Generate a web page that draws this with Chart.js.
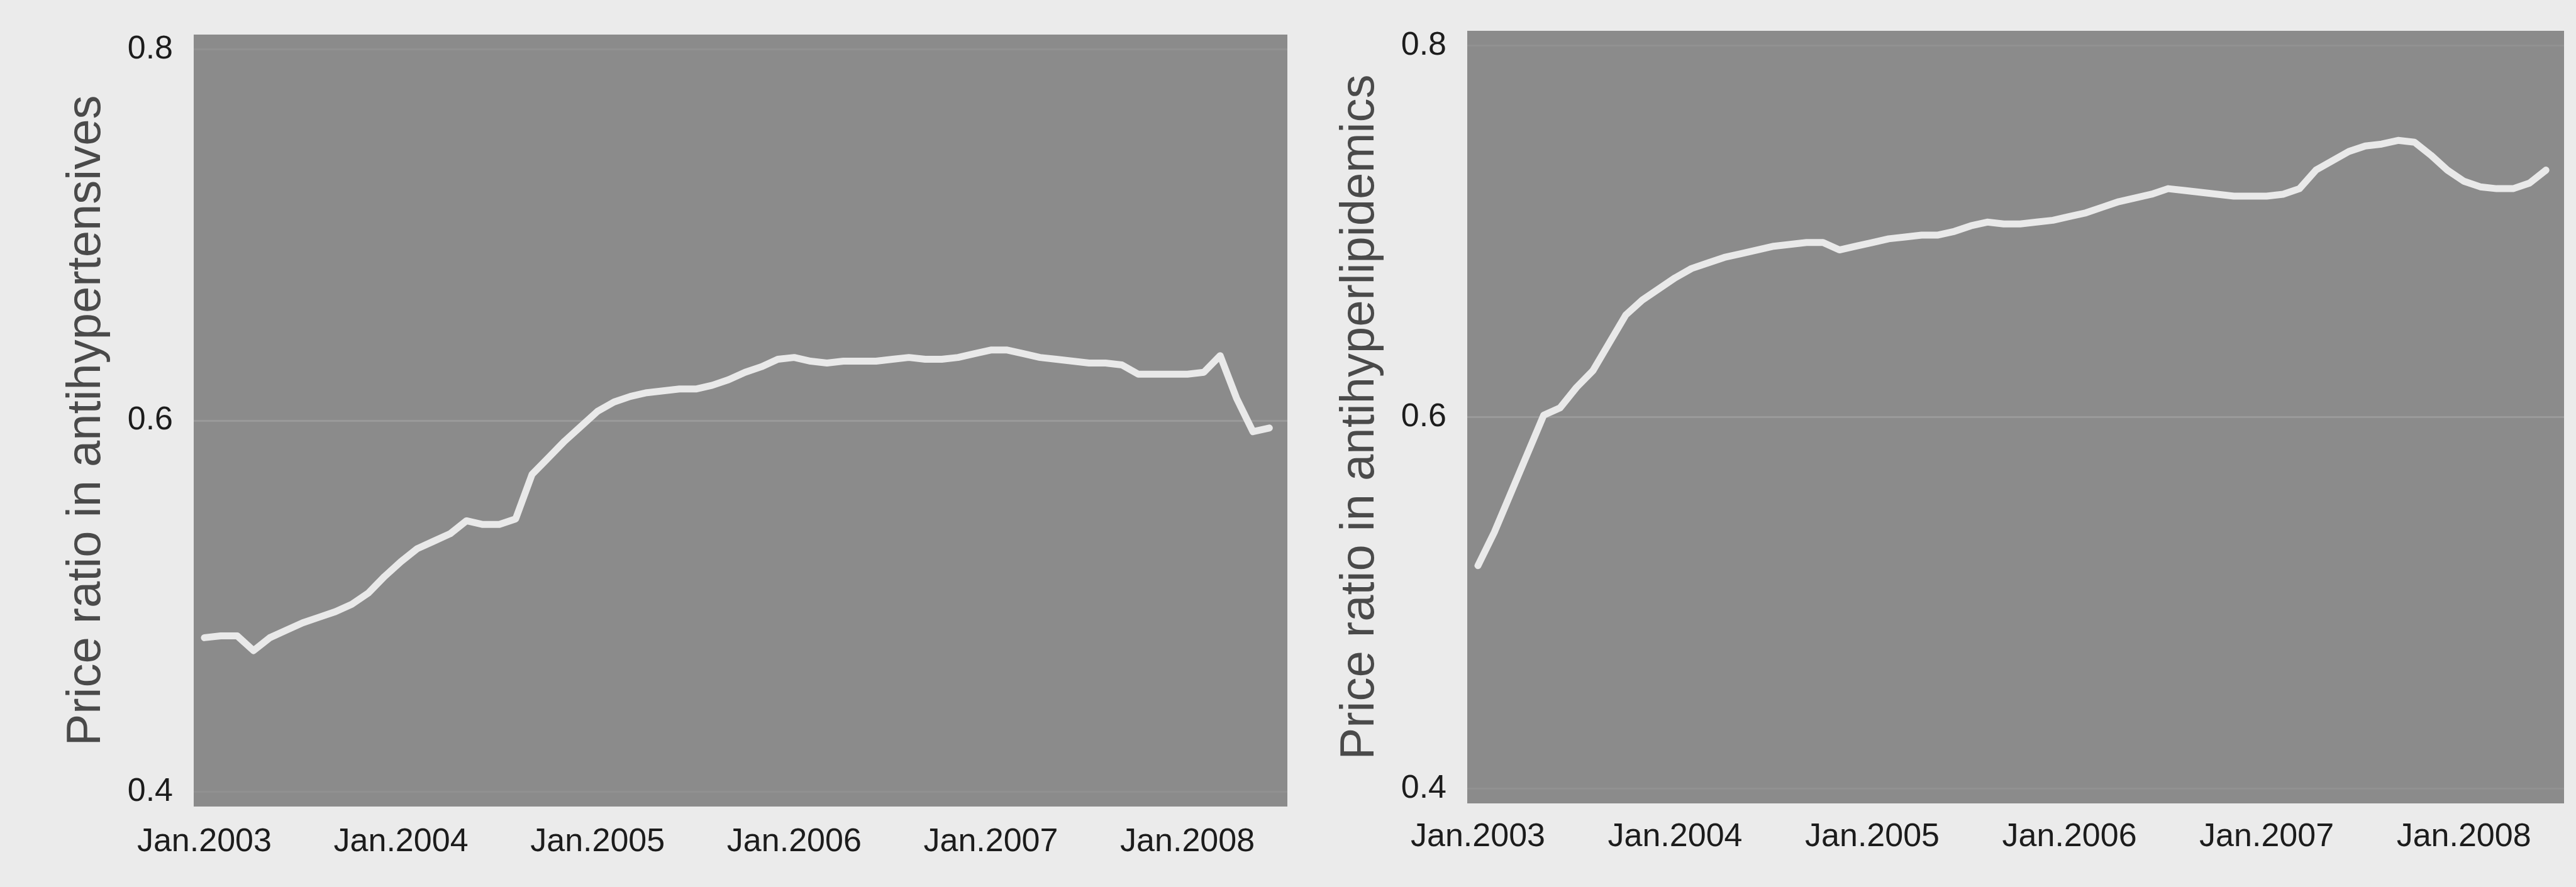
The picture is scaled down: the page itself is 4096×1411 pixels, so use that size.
<!DOCTYPE html>
<html>
<head>
<meta charset="utf-8">
<script src="https://cdn.jsdelivr.net/npm/chart.js@4.4.1/dist/chart.umd.min.js"></script>
<style>
  html, body { margin: 0; padding: 0; background: #ebebeb; width: 4096px; height: 1411px; overflow: hidden; }
  canvas { position: absolute; top: 0; }
  #c1 { left: 0; }
  #c2 { left: 2100px; }
</style>
</head>
<body>
<canvas id="c1" width="2100" height="1411"></canvas>
<canvas id="c2" width="1996" height="1411"></canvas>
<script>
// x tick positions are month offsets from Jan 2003
const tickMonths = [0, 12, 24, 36, 48, 60];
const tickLabels = ['Jan.2003', 'Jan.2004', 'Jan.2005', 'Jan.2006', 'Jan.2007', 'Jan.2008'];
const yTicks = [0.4, 0.6, 0.8];

// monthly price ratios, Jan 2003 - Jun 2008
const antihypertensives = [
  0.483, 0.484, 0.484, 0.476, 0.483, 0.487, 0.491, 0.494, 0.497, 0.501,
  0.507, 0.516, 0.524, 0.531, 0.535, 0.539, 0.546, 0.544, 0.544, 0.547,
  0.571, 0.580, 0.589, 0.597, 0.605, 0.610, 0.613, 0.615, 0.616, 0.617,
  0.617, 0.619, 0.622, 0.626, 0.629, 0.633, 0.634, 0.632, 0.631, 0.632,
  0.632, 0.632, 0.633, 0.634, 0.633, 0.633, 0.634, 0.636, 0.638, 0.638,
  0.636, 0.634, 0.633, 0.632, 0.631, 0.631, 0.630, 0.625, 0.625, 0.625,
  0.625, 0.626, 0.635, 0.612, 0.594, 0.596
];
const antihyperlipidemics = [
  0.520, 0.538, 0.559, 0.580, 0.601, 0.605, 0.616, 0.625, 0.640, 0.655,
  0.663, 0.669, 0.675, 0.680, 0.683, 0.686, 0.688, 0.690, 0.692, 0.693,
  0.694, 0.694, 0.690, 0.692, 0.694, 0.696, 0.697, 0.698, 0.698, 0.700,
  0.703, 0.705, 0.704, 0.704, 0.705, 0.706, 0.708, 0.710, 0.713, 0.716,
  0.718, 0.720, 0.723, 0.722, 0.721, 0.720, 0.719, 0.719, 0.719, 0.720,
  0.723, 0.733, 0.738, 0.743, 0.746, 0.747, 0.749, 0.748, 0.741, 0.733,
  0.727, 0.724, 0.723, 0.723, 0.726, 0.733
];

const textFont = "'Liberation Sans', Arial, sans-serif";

// grey panel behind the plotting area
const panelBg = {
  id: 'panelBg',
  beforeDraw(chart) {
    const { ctx, chartArea: a } = chart;
    ctx.save();
    ctx.fillStyle = '#8b8b8b';
    ctx.fillRect(a.left, a.top, a.right - a.left, a.bottom - a.top);
    ctx.restore();
  }
};

function makePanel(id, values, title, geo) {
  return new Chart(document.getElementById(id), {
    type: 'line',
    data: {
      datasets: [{
        data: values.map((v, i) => ({ x: i, y: v })),
        borderColor: '#e9e9e9',
        borderWidth: 11,
        pointRadius: 0,
        tension: 0,
        borderJoinStyle: 'round',
        borderCapStyle: 'round'
      }]
    },
    options: {
      responsive: false,
      animation: false,
      events: [],
      layout: { padding: { left: geo.padLeft, right: geo.padRight, top: geo.top, bottom: 0 } },
      plugins: { legend: { display: false }, tooltip: { enabled: false } },
      scales: {
        x: {
          type: 'linear',
          min: -0.65,
          max: 66.1,
          afterBuildTicks: s => { s.ticks = tickMonths.map(v => ({ value: v })); },
          afterFit: s => { s.height = geo.xAxisH; s.paddingLeft = 0; s.paddingRight = 0; },
          grid: { display: false, drawTicks: false },
          border: { display: false },
          ticks: {
            autoSkip: false,
            maxRotation: 0,
            padding: geo.xPad,
            color: '#1c1c1c',
            font: { family: textFont, size: 52 },
            callback: v => tickLabels[tickMonths.indexOf(v)]
          }
        },
        y: {
          min: 0.392,
          max: 0.808,
          afterBuildTicks: s => { s.ticks = yTicks.map(v => ({ value: v })); },
          afterFit: s => { s.width = geo.yAxisW; s.paddingTop = 0; s.paddingBottom = 0; },
          grid: {
            color: c => (c.tick && c.tick.value === 0.6) ? 'rgba(255,255,255,0.13)' : 'rgba(255,255,255,0.06)',
            lineWidth: 3,
            drawTicks: false
          },
          border: { display: false },
          ticks: {
            padding: 33,
            color: '#1c1c1c',
            font: { family: textFont, size: 52 },
            callback: v => v.toFixed(1)
          },
          title: {
            display: true,
            text: title,
            color: '#4a4a4a',
            font: { family: textFont, size: 76 },
            padding: { top: 17.4, bottom: 0 }
          }
        }
      }
    },
    plugins: [panelBg]
  });
}

makePanel('c1', antihypertensives, 'Price ratio in antihypertensives',
  { padLeft: 75, padRight: 53, top: 55, yAxisW: 233, xAxisH: 128, xPad: 25 });
makePanel('c2', antihyperlipidemics, 'Price ratio in antihyperlipidemics',
  { padLeft: 0, padRight: 19, top: 49, yAxisW: 233, xAxisH: 133, xPad: 22 });
</script>
</body>
</html>
